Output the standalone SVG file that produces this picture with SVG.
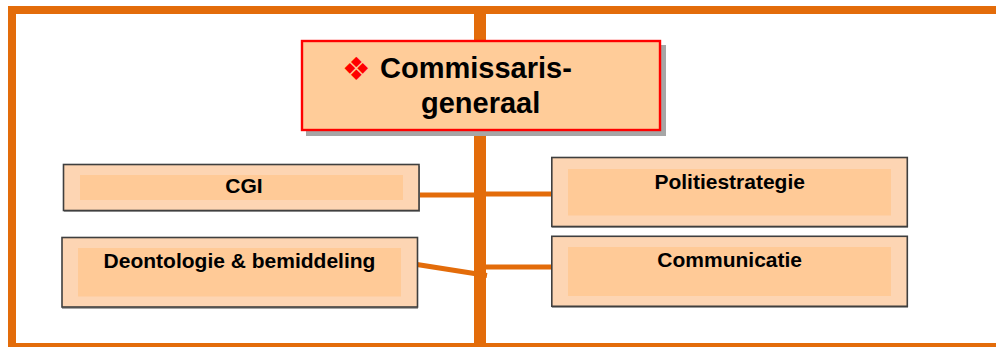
<svg xmlns="http://www.w3.org/2000/svg" width="996" height="347" viewBox="0 0 996 347">
  <defs>
    <style>
      .frame { fill: #E36C0A; }
      .link { stroke: #E36C0A; stroke-width: 5; fill: none; }
      .box { fill: #FDD5B3; stroke: #3F3F3F; stroke-width: 1.6; }
      .inner { fill: #FFCA97; }
      .shade { fill: #A6A6A6; }
      .lbl { font-family: "Liberation Sans", Arial, sans-serif; font-weight: bold; font-size: 21px; fill: #000; text-anchor: middle; }
      .head { font-family: "Liberation Sans", Arial, sans-serif; font-weight: bold; font-size: 29px; fill: #000; }
    </style>
  </defs>
  <rect width="996" height="347" fill="#FFFFFF"/>

  <!-- orange frame and central spine -->
  <g id="frame">
    <rect class="frame" x="8" y="6" width="988" height="8"/>
    <rect class="frame" x="8" y="6" width="8" height="341"/>
    <rect class="frame" x="8" y="343" width="988" height="4"/>
    <rect class="frame" x="474" y="6" width="12" height="341"/>
  </g>

  <!-- connectors from the spine to the units -->
  <g id="connectors">
    <line class="link" x1="419" y1="195" x2="474" y2="195"/>
    <line class="link" x1="486" y1="194" x2="552" y2="194"/>
    <line class="link" x1="417" y1="264.5" x2="487" y2="275.5"/>
    <line class="link" x1="486" y1="267" x2="552" y2="267"/>
  </g>

  <!-- head of the organisation -->
  <g id="commissaris-generaal">
    <rect class="shade" x="306" y="45" width="360" height="91"/>
    <rect x="302" y="41" width="358" height="89" fill="#FFCC99" stroke="#FF0000" stroke-width="2.4"/>
    <text x="342" y="80" font-family="DejaVu Sans, sans-serif" font-size="32" fill="#FF0000">❖</text>
    <text class="head" x="380" y="78">Commissaris-</text>
    <text class="head" x="421" y="113">generaal</text>
  </g>

  <g id="cgi">
    <rect class="shade" x="64" y="166" width="356" height="46"/>
    <rect class="box" x="63.5" y="164.5" width="355.5" height="46"/>
    <rect class="inner" x="80" y="175" width="323" height="25"/>
    <text class="lbl" x="244" y="193">CGI</text>
  </g>

  <g id="deontologie">
    <rect class="shade" x="62" y="239" width="356" height="70"/>
    <rect class="box" x="62" y="237.5" width="355.5" height="69.5"/>
    <rect class="inner" x="78" y="248" width="323" height="48.5"/>
    <text class="lbl" x="239.5" y="268">Deontologie &amp; bemiddeling</text>
  </g>

  <g id="politiestrategie">
    <rect class="shade" x="552" y="159" width="356" height="69"/>
    <rect class="box" x="551.8" y="157.5" width="355.5" height="69"/>
    <rect class="inner" x="568" y="169" width="323" height="46.5"/>
    <text class="lbl" x="729.7" y="189">Politiestrategie</text>
  </g>

  <g id="communicatie">
    <rect class="shade" x="552" y="238" width="356" height="70"/>
    <rect class="box" x="551.8" y="236.3" width="355.5" height="70"/>
    <rect class="inner" x="568" y="247" width="323" height="49"/>
    <text class="lbl" x="729.7" y="266.5">Communicatie</text>
  </g>
</svg>
